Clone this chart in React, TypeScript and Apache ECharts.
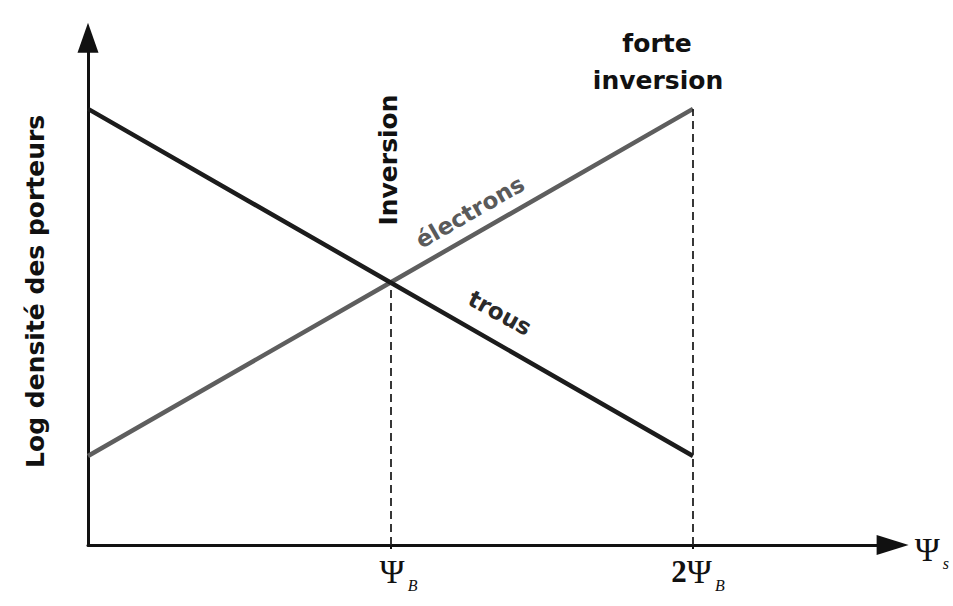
import React, { useEffect, useRef } from 'react';
import * as echarts from 'echarts';

// Surface potential, in units of ΨB
const surfacePotential = [0, 1, 2];
// Log of carrier densities along the surface potential
const holeDensity = [4.9, 2.95, 1.0];
const electronDensity = [1.0, 2.95, 4.9];
// Threshold marks on the potential axis and their labels
const thresholdTicks = [1, 2];
const tickLabels = ['{psi1|Ψ}{sub|B}', '{two|2}{psi|Ψ}{sub|B}'];

const SANS = 'DejaVu Sans';
const SERIF = 'Liberation Serif';
const INK = '#111';

export default function App() {
  const ref = useRef<HTMLDivElement>(null);

  useEffect(() => {
    const chart = echarts.init(ref.current!, null, { renderer: 'svg' });

    const psiRich = {
      psi: { fontFamily: SERIF, fontSize: 34, color: INK, lineHeight: 44, verticalAlign: 'middle' },
      psi1: { fontFamily: SERIF, fontSize: 34, color: INK, lineHeight: 44, verticalAlign: 'middle', padding: [0, 0, 0, 16] },
      two: { fontFamily: SERIF, fontSize: 31, fontWeight: 'bold', color: INK, lineHeight: 44, verticalAlign: 'middle', padding: [0, 0, 0, 10] },
      sub: { fontFamily: SERIF, fontSize: 16, fontStyle: 'italic', color: INK, lineHeight: 14, padding: [0, 0, 0, 3], verticalAlign: 'bottom' },
    };

    const boldText = (text: string, x: number, y: number, rotation = 0, color = INK, size = 25) => ({
      type: 'text',
      x,
      y,
      rotation,
      silent: true,
      style: {
        text,
        fontFamily: SANS,
        fontWeight: 'bold',
        fontSize: size,
        fill: color,
        align: 'center',
        verticalAlign: 'middle',
      },
    });

    chart.setOption({
      animation: false,
      backgroundColor: '#ffffff',
      grid: { left: 88, right: 60.35, top: 37.7, bottom: 61, outerBoundsMode: 'none' },
      xAxis: {
        type: 'value',
        min: 0,
        max: 2.66,
        axisLine: {
          show: true,
          symbol: ['none', 'triangle'],
          symbolSize: [20, 32],
          lineStyle: { color: INK, width: 3 },
        },
        axisTick: { show: true, customValues: thresholdTicks, length: 4, lineStyle: { color: INK, width: 2 } },
        axisLabel: {
          customValues: thresholdTicks,
          margin: 4,
          formatter: (v: number) => {
            const i = thresholdTicks.indexOf(v);
            return i >= 0 ? tickLabels[i] : '';
          },
          rich: psiRich,
        },
        splitLine: { show: false },
        name: '{psi|Ψ}{sub|s}',
        nameLocation: 'end',
        nameGap: 22,
        nameTextStyle: { rich: psiRich, align: 'left', padding: [8, 0, 0, 0] },
      },
      yAxis: {
        type: 'value',
        min: 0,
        max: 5.7,
        axisLine: {
          show: true,
          symbol: ['none', 'triangle'],
          symbolSize: [21, 30],
          lineStyle: { color: INK, width: 3 },
        },
        axisTick: { show: false },
        axisLabel: { show: false },
        splitLine: { show: false },
        name: 'Log densité des porteurs',
        nameLocation: 'middle',
        nameGap: 40,
        nameTextStyle: { fontFamily: SANS, fontWeight: 'bold', fontSize: 25, color: INK },
      },
      series: [
        {
          name: 'trous',
          type: 'line',
          data: surfacePotential.map((x, i) => [x, holeDensity[i]]),
          symbol: 'none',
          lineStyle: { color: '#1c1c1c', width: 4.5 },
          z: 3,
          markLine: {
            silent: true,
            symbol: 'none',
            label: { show: false },
            lineStyle: { color: '#222', width: 1.8, type: [8, 5] },
            data: [
              [{ coord: [surfacePotential[1], 0] }, { coord: [surfacePotential[1], holeDensity[1]] }],
              [{ coord: [surfacePotential[2], 0] }, { coord: [surfacePotential[2], electronDensity[2]] }],
            ],
          },
        },
        {
          name: 'électrons',
          type: 'line',
          data: surfacePotential.map((x, i) => [x, electronDensity[i]]),
          symbol: 'none',
          lineStyle: { color: '#5e5e5e', width: 4.5 },
          z: 2,
        },
      ],
      graphic: [
        boldText('Inversion', 388, 160, Math.PI / 2),
        boldText('forte', 657, 43),
        boldText('inversion', 658, 80),
        boldText('électrons', 470, 212, 0.52, '#5a5a5a', 23),
        boldText('trous', 500, 313, -0.5, '#2a2a2a', 23),
      ],
    });

    return () => chart.dispose();
  }, []);

  return (
    <div
      ref={ref}
      style={{ position: 'fixed', left: 0, top: 0, width: 953, height: 606, background: '#fff' }}
    />
  );
}
